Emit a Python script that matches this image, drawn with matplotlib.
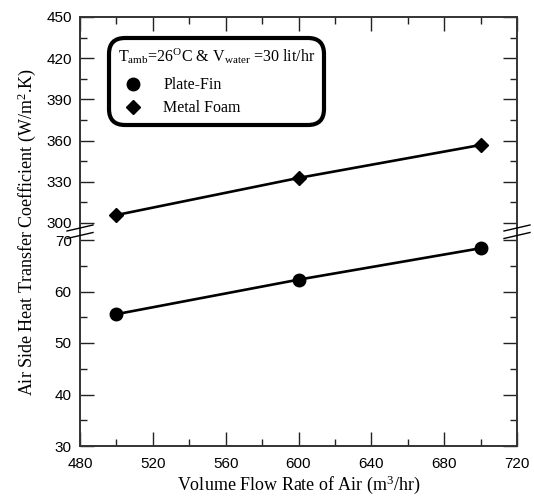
import numpy as np
import matplotlib
matplotlib.use("Agg")
import matplotlib.pyplot as plt
from matplotlib.ticker import FixedLocator, NullFormatter

plt.rcParams['mathtext.fontset'] = 'custom'
plt.rcParams['mathtext.rm'] = 'Liberation Serif'
plt.rcParams['mathtext.it'] = 'Liberation Serif:italic'

# ---- data ----
flow_rate = [500, 600, 700]
plate_fin = [55.6, 62.3, 68.4]
metal_foam = [305.8, 332.8, 356.8]

x_ticks = [480, 520, 560, 600, 640, 680, 720]
x_minor = [500, 540, 580, 620, 660, 700]
y_ticks_low = [30, 40, 50, 60, 70]
y_ticks_high = [300, 330, 360, 390, 420, 450]
y_minor = [35, 45, 55, 65, 315, 345, 375, 405, 435]

# ---- broken scale (piecewise linear) ----
LOW0, LOW1, HIGH0, HIGH1 = 30.0, 70.0, 300.0, 450.0
P_LOW, P_GAP, P_HIGH = 206.0, 17.0, 206.0
s_low = P_LOW / (LOW1 - LOW0)
s_gap = P_GAP / (HIGH0 - LOW1)
s_high = P_HIGH / (HIGH1 - HIGH0)


def fwd(y):
    y = np.asarray(y, dtype=float)
    return np.where(y <= LOW1, (y - LOW0) * s_low,
                    np.where(y < HIGH0, P_LOW + (y - LOW1) * s_gap,
                             P_LOW + P_GAP + (y - HIGH0) * s_high))


def inv(p):
    p = np.asarray(p, dtype=float)
    return np.where(p <= P_LOW, LOW0 + p / s_low,
                    np.where(p < P_LOW + P_GAP, LOW1 + (p - P_LOW) / s_gap,
                             HIGH0 + (p - P_LOW - P_GAP) / s_high))


fig = plt.figure(figsize=(5.34, 4.97), dpi=100)
ax = fig.add_axes([80 / 534, 1 - 446 / 497, 437 / 534, 429 / 497])
ax.set_yscale('function', functions=(fwd, inv))

ax.plot(flow_rate, plate_fin, color='black', lw=1.9, marker='o', ms=9,
        label='Plate-Fin', zorder=3)
ax.plot(flow_rate, metal_foam, color='black', lw=1.9, marker='D', ms=7.5,
        label='Metal Foam', zorder=3)

ax.set_xlim(480, 720)
ax.set_ylim(30, 450)

ax.xaxis.set_major_locator(FixedLocator(x_ticks))
ax.xaxis.set_minor_locator(FixedLocator(x_minor))
ax.yaxis.set_major_locator(FixedLocator(y_ticks_low + y_ticks_high))
ax.yaxis.set_minor_locator(FixedLocator(y_minor))
ax.yaxis.set_minor_formatter(NullFormatter())
ax.set_yticklabels([str(v) for v in y_ticks_low + y_ticks_high])

ax.tick_params(which='both', direction='in', top=True, right=True,
               color='#222222', width=1.0)
ax.tick_params(which='major', length=10, labelsize=11, pad=7)
ax.tick_params(which='minor', length=5)
for lab in ax.get_xticklabels() + ax.get_yticklabels():
    lab.set_fontfamily('Liberation Sans')
ax.tick_params(axis='x', pad=8)
ax.tick_params(axis='y', pad=6)

for sp in ax.spines.values():
    sp.set_linewidth(1.4)
    sp.set_color('#333333')

ax.set_xlabel('Volume Flow Rate of Air (m$^{3}$/hr)', family='Liberation Serif',
              fontsize=13, labelpad=2)
ax.set_ylabel('Air Side Heat Transfer Coefficient (W/m$^{2}$.K)',
              family='Liberation Serif', fontsize=13, labelpad=6)

# break marks on both spines
trans = ax.transAxes
def to_frac(py):
    return (446 - py) / 429
dx = 13 / 437
for xc in (0.0, 1.0):
    for yc in (228, 235.5):
        ax.plot([xc - dx, xc + dx], [to_frac(yc + 3), to_frac(yc - 3)],
                transform=trans, color='black', lw=1.0, clip_on=False, zorder=5)

leg = ax.legend(loc='upper left', bbox_to_anchor=(0.077, 0.94),
                title=r'T$_{\rm amb}$=26$^{\rm O}$C & V$_{\rm water}$ =30 lit/hr',
                prop={'family': 'Liberation Serif', 'size': 11.5},
                title_fontproperties={'family': 'Liberation Serif', 'size': 11.5},
                alignment='left', frameon=True, fancybox=True, framealpha=1,
                edgecolor='black', handlelength=1.9, handletextpad=0.95,
                borderpad=0.25, labelspacing=0.45, borderaxespad=0)
leg._legend_box.sep = 7.8
for h in leg.legend_handles:
    h.set_linestyle('none')
frame = leg.get_frame()
frame.set_linewidth(3.0)
frame.set_boxstyle('round,pad=0.3,rounding_size=1.0')

fig.savefig('out.png', dpi=100)
